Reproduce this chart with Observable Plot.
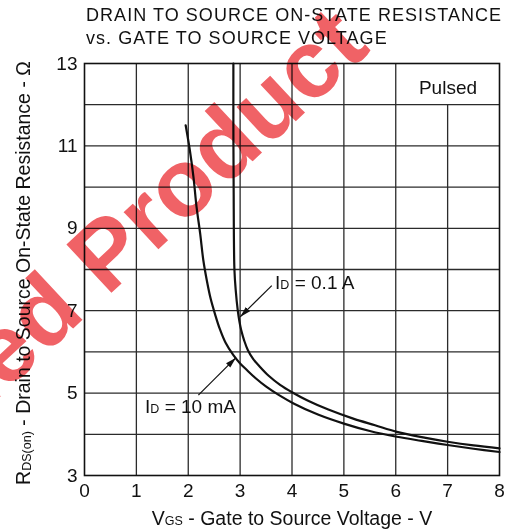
<!DOCTYPE html>
<html>
<head>
<meta charset="utf-8">
<script src="https://cdn.jsdelivr.net/npm/d3@7"></script>
<script src="https://cdn.jsdelivr.net/npm/@observablehq/plot@0.6"></script>
<style>
  body { margin: 0; background: #fff; }
  #wrap { position: relative; width: 513px; height: 532px; overflow: hidden; font-family: "Liberation Sans", Arial, sans-serif; color: #111; }
  #title { height: 52px; box-sizing: border-box; padding: 4px 0 0 86px; font-size: 18px; letter-spacing: 1.05px; line-height: 23px; white-space: nowrap; }
  #wm { position: absolute; left: 0; top: 0; pointer-events: none; mix-blend-mode: multiply; }
</style>
</head>
<body>
<div id="wrap">
  <div id="title">DRAIN TO SOURCE ON-STATE RESISTANCE<br>vs. GATE TO SOURCE VOLTAGE</div>
  <div id="chart"></div>
  <svg id="wm" width="513" height="532"><text id="wmtext" x="372" y="50" text-anchor="end" transform="rotate(-43 372 50)" font-family="Liberation Sans, Arial, sans-serif" font-weight="bold" font-size="96" fill="#f06266">Discontinued Product</text></svg>
</div>
<script>
// ---- data ----
const vgs01 = [2.87, 2.87, 2.875, 2.89, 2.915, 2.955, 2.985, 3.02, 3.08, 3.15, 3.25, 3.38, 3.55, 3.77, 4.0, 4.3, 4.7, 5.18, 5.6, 6.02, 6.5, 7.0, 7.5, 8.0];
const r01   = [13, 11.5, 10, 8.0, 7.5, 7.0, 6.75, 6.53, 6.27, 6.04, 5.83, 5.64, 5.42, 5.2, 5.02, 4.82, 4.6, 4.38, 4.22, 4.06, 3.93, 3.82, 3.73, 3.66];
const vgs10 = [1.95, 2.03, 2.10, 2.16, 2.23, 2.29, 2.36, 2.43, 2.52, 2.61, 2.72, 2.87, 3.0, 3.13, 3.3, 3.51, 3.75, 4.03, 4.5, 5.0, 5.5, 6.02, 6.5, 7.0, 7.5, 8.0];
const r10   = [11.5, 10.9, 10.25, 9.52, 8.87, 8.23, 7.72, 7.3, 6.9, 6.55, 6.22, 5.92, 5.72, 5.56, 5.36, 5.15, 4.95, 4.75, 4.48, 4.26, 4.08, 3.94, 3.84, 3.74, 3.65, 3.57];
const xTicks = [0, 1, 2, 3, 4, 5, 6, 7, 8];
const yTicks = [3, 5, 7, 9, 11, 13];
const gridXFull = [1, 2, 3, 4, 5, 6];
const gridXShort = [7];          // stops below the "Pulsed" box
const gridXShortTop = 12;
const gridY = [4, 5, 6, 7, 8, 9, 10, 11, 12];
const labelText = ["ID = 0.1 A", "ID = 10 mA", "Pulsed"];
const labelV = [3.674, 1.167, 7.007];
const labelR = [7.667, 4.665, 12.41];
const labelAnchor = ["start", "start", "middle"];
const arrowV1 = [3.61, 2.195];
const arrowR1 = [7.61, 4.95];
const arrowV2 = [3.0, 2.92];
const arrowR2 = [6.85, 5.86];

const series01 = vgs01.map((v, i) => ({v, r: r01[i]}));
const series10 = vgs10.map((v, i) => ({v, r: r10[i]}));
const labels = labelText.map((t, i) => ({t, v: labelV[i], r: labelR[i], a: labelAnchor[i]}));
const arrows = arrowV1.map((v, i) => ({v1: v, r1: arrowR1[i], v2: arrowV2[i], r2: arrowR2[i]}));

const gridStroke = "#2b2b2b";
const chart = Plot.plot({
  width: 513,
  height: 480,
  marginTop: 11,
  marginBottom: 57,
  marginLeft: 84,
  marginRight: 14,
  style: {fontFamily: "Liberation Sans, Arial, sans-serif", fontSize: "19px", color: "#111", background: "white"},
  x: {domain: [0, 8], ticks: xTicks, tickSize: 0, tickPadding: 8, label: null},
  y: {domain: [3, 13], ticks: yTicks, tickSize: 0, tickPadding: 7, label: null},
  marks: [
    Plot.ruleX(gridXFull, {stroke: gridStroke, strokeWidth: 1.3}),
    Plot.ruleX(gridXShort, {y1: 3, y2: gridXShortTop, stroke: gridStroke, strokeWidth: 1.3}),
    Plot.ruleY(gridY, {stroke: gridStroke, strokeWidth: 1.3}),
    Plot.frame({stroke: "#111", strokeWidth: 1.6}),
    Plot.line(series01, {x: "v", y: "r", curve: "catmull-rom", stroke: "#111", strokeWidth: 2.2}),
    Plot.line(series10, {x: "v", y: "r", curve: "catmull-rom", stroke: "#111", strokeWidth: 2.2}),
    Plot.link(arrows, {x1: "v1", y1: "r1", x2: "v2", y2: "r2", stroke: "#111", strokeWidth: 1.2}),
    Plot.text(labels, {x: "v", y: "r", text: "t", textAnchor: "start", fontSize: 19, fill: "#111", filter: d => d.a === "start"}),
    Plot.text(labels, {x: "v", y: "r", text: "t", textAnchor: "middle", fontSize: 19, fill: "#111", filter: d => d.a === "middle"})
  ]
});
document.getElementById("chart").appendChild(chart);

const svg = d3.select(chart);
// arrowhead marker
const defs = svg.append("defs");
defs.append("marker").attr("id", "ah").attr("markerUnits", "userSpaceOnUse")
  .attr("markerWidth", 14).attr("markerHeight", 10).attr("refX", 11).attr("refY", 0)
  .attr("viewBox", "0 -5 14 10").attr("orient", "auto")
  .append("path").attr("d", "M0,-3L11,0L0,3Z").attr("fill", "#111");
svg.selectAll('g[aria-label="link"] path').attr("marker-end", "url(#ah)");

// subscripts in annotation labels
svg.selectAll("text").each(function() {
  const t = this.textContent;
  if (t.startsWith("ID = ")) {
    const s = d3.select(this);
    s.text(null);
    s.append("tspan").text("I");
    s.append("tspan").attr("font-size", 12.5).text("D");
    s.append("tspan").text(t.slice(2));
  }
});

// axis titles with subscripts
const yl = svg.append("text").attr("transform", "translate(30,221) rotate(-90)")
  .attr("text-anchor", "middle").attr("font-size", 19.5).attr("fill", "#111");
yl.append("tspan").text("R");
yl.append("tspan").attr("font-size", 12.5).attr("dy", 1).text("DS(on)");
yl.append("tspan").attr("dy", -1).text(" - Drain to Source On-State Resistance - Ω");

const xl = svg.append("text").attr("x", 292).attr("y", 473)
  .attr("text-anchor", "middle").attr("font-size", 19.5).attr("fill", "#111");
xl.append("tspan").text("V");
xl.append("tspan").attr("font-size", 12.5).text("GS");
xl.append("tspan").text(" - Gate to Source Voltage - V");
</script>
</body>
</html>
